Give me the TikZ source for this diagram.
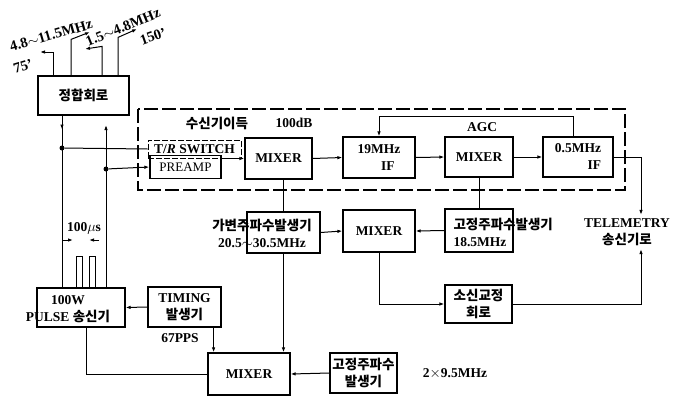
\documentclass[tikz,border=0pt]{standalone}
\usepackage{fontspec}
\setmainfont{Liberation Serif}
\newfontfamily\krfont{Noto Sans CJK KR}
\newcommand\hangul[1]{{\krfont #1}}
\usetikzlibrary{arrows.meta}
\tikzset{
  blk/.style={draw, line width=1.2pt, inner sep=1pt, align=center},
  wire/.style={line width=1pt},
  arr/.style={wire, -{Latex[length=5pt,width=3.5pt]}},
  dot/.style={circle, fill, inner sep=0pt, minimum size=5pt},
  tilt/.style={sloped, inner sep=0pt, font=\fontsize{14.5}{17}\selectfont\bfseries},
}
\begin{document}
\begin{tikzpicture}[x=1pt,y=-1pt,font=\fontsize{13.5}{17}\selectfont\bfseries]
\useasboundingbox (0,0) rectangle (680,397);
\draw[line width=1.2pt, dash pattern=on 14pt off 4pt] (138,109) rectangle (625,190);
\node[blk, minimum width=91pt, minimum height=39pt] (match) at (83.5,95.5) {\hangul{정합회로}};
\node[draw, line width=0.6pt, dash pattern=on 6pt off 2pt, minimum width=93pt, minimum height=18pt, inner sep=0pt] (trsw) at (194.5,149) {T/\textit{R} SWITCH};
\node[blk, minimum width=71pt, minimum height=23pt, font=\fontsize{13}{15}\selectfont] (preamp) at (185.5,167) {PREAMP};
\node[blk, minimum width=67pt, minimum height=41pt] (mix1) at (278.5,158.5) {MIXER};
\node[blk, minimum width=72pt, minimum height=41pt] (if19) at (379,157.5) {19MHz\\\hspace*{1.3em}IF};
\node[blk, minimum width=68pt, minimum height=40pt] (mix2) at (479,157) {MIXER};
\node[blk, minimum width=70pt, minimum height=40pt, align=right] (if05) at (578,157) {0.5MHz\\IF};
\node (gain) at (217,123) {\hangul{수신기이득}};
\node (db) at (294,123) {100dB};
\node (agc) at (482,127) {AGC};
\node[blk, minimum width=73pt, minimum height=41pt] (vfo) at (283.5,232.5) {};
\node[align=center] (vfotxt) at (262,233) {\hangul{가변주파수발생기}\\20.5$\sim$30.5MHz};
\node[blk, minimum width=72pt, minimum height=42pt] (mix3) at (379,231) {MIXER};
\node[blk, minimum width=68pt, minimum height=43pt] (fix1) at (479,230.5) {};
\node[anchor=west, align=left] (fix1txt) at (450,232) {\hangul{고정주파수발생기}\\18.5MHz};
\node[align=center] (tele) at (627,232) {TELEMETRY\\\hangul{송신기로}};
\node[blk, minimum width=67pt, minimum height=38pt] (sosin) at (478.5,304) {\hangul{소신교정}\\\hangul{회로}};
\node[blk, minimum width=88pt, minimum height=39pt] (pulse) at (81,307.5) {};
\node[align=center] (pulsetxt) at (68,309) {100W\\PULSE \hangul{송신기}};
\node[blk, minimum width=73pt, minimum height=40pt] (timing) at (184.5,307) {TIMING\\\hangul{발생기}};
\node (pps) at (180,338) {67PPS};
\node[blk, minimum width=82pt, minimum height=42pt] (mix4) at (249,374) {MIXER};
\node[blk, minimum width=67pt, minimum height=40pt] (fix2) at (363.5,373) {\hangul{고정주파수}\\\hangul{발생기}};
\node (lo2) at (455,374) {2$\times$9.5MHz};
\path (8,48) -- node[tilt] (band1) {4.8$\sim$11.5MHz} (94,23);
\path (13,69) -- node[tilt] (len1) {75'} (33,63);
\path (86,42) -- node[tilt] (band2) {1.5$\sim$4.8MHz} (160,12);
\path (143,40) -- node[tilt] (len2) {150'} (163,33);
\coordinate (lc) at (62,0);
\coordinate (rc) at (106,0);
\node[dot] (j1) at (62,148) {};
\node[dot] (j2) at (106,169) {};
\coordinate (tx) at (106,125);
\coordinate (tm) at (641,157);
\draw[arr] ([xshift=-30.5pt]match.north) |- (40,52);
\draw[arr] ([xshift=-12.5pt]match.north) -- ++(0,-36) -- (90,32);
\draw[arr] ([xshift=18.5pt]match.north) -- ++(0,-29) -- (85,49);
\draw[arr] ([xshift=34.5pt]match.north) -- ++(0,-38) -- (137,29);
\draw[arr] (match.south -| lc) -- ++(0,14);
\draw[wire] (match.south -| lc) -- (pulse.north -| lc);
\draw[arr] (pulse.north -| rc) -- (tx);
\draw[wire] (j1) -- (trsw.west);
\draw[arr] (j2) -- (preamp.west);
\draw[arr] (preamp.east |- mix1.west) -- (mix1.west);
\draw[arr] (mix1.east) -- (if19.west);
\draw[arr] (if19.east) -- (mix2.west);
\draw[arr] (mix2.east) -- (if05.west);
\draw[arr] ([xshift=-5pt]if05.north) -- ++(0,-20) -| (if19.north);
\draw[wire] (if05.east) -- (tm);
\draw[arr] (tm) -- (tm |- tele.north);
\draw[wire] (mix1.south -| vfo.north) -- (vfo.north);
\draw[arr] (vfo.east) -- (mix3.west);
\draw[arr] (fix1.west) -- (mix3.east);
\draw[wire] (mix2.south -| fix1.north) -- (fix1.north);
\draw[arr] (mix3.south) |- (sosin.west);
\draw[arr] (sosin.east) -| (tm |- tele.south);
\draw[arr] (timing.west) -- (pulse.east);
\draw[arr] ([xshift=-8pt]timing.south east) -- ([xshift=-8pt]timing.south east |- mix4.north);
\draw[arr] (vfo.south) -- (vfo.south |- mix4.north);
\draw[arr] (fix2.west) -- (mix4.east);
\draw[wire] ([xshift=5pt]pulse.south) |- (mix4.west);
\draw[wire] (76,288) -- (76,256) -- (82,256) -- (82,288) (89,288) -- (89,256) -- (95,256) -- (95,288);
\node (width) at (84,228) {100$\mu$s};
\draw[arr] (63,240) -- (73,240);
\draw[arr] (99,240) -- (89,240);
\end{tikzpicture}
\end{document}
